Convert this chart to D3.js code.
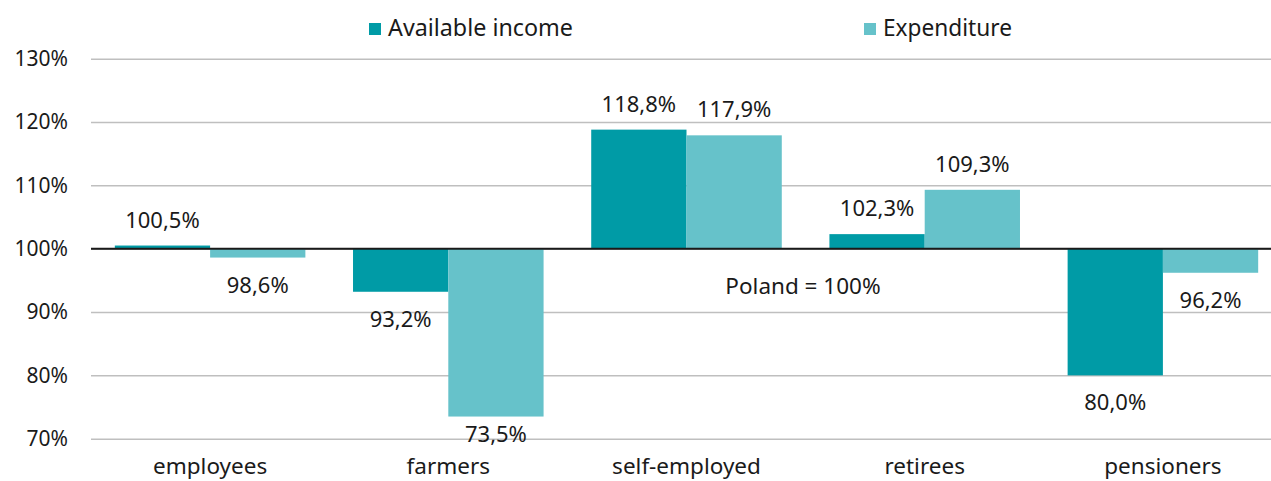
<!DOCTYPE html>
<html>
<head>
<meta charset="utf-8">
<script src="https://cdn.jsdelivr.net/npm/d3@7"></script>
<style>
  html, body { margin: 0; padding: 0; background: #fff; }
  svg { display: block; }
  svg text { font-family: "Noto Sans", "Open Sans", sans-serif; }
</style>
</head>
<body>
<svg id="chart" width="1271" height="481"></svg>
<script>
// Household income and spending per person by socio-economic group (Poland = 100%)
const categories = ["employees", "farmers", "self-employed", "retirees", "pensioners"];
const seriesNames = ["Available income", "Expenditure"];
const availableIncome = [100.5, 93.2, 118.8, 102.3, 80.0];
const expenditure = [98.6, 73.5, 117.9, 109.3, 96.2];
const yTicks = [70, 80, 90, 100, 110, 120, 130];
const baseline = 100;
const baselineNote = "Poland = 100%";

const colors = ["#009ba6", "#66c2ca"];
const fmt = v => v.toFixed(1).replace(".", ",") + "%";
const fontFamily = '"Noto Sans", "Open Sans", sans-serif';
const labelSize = 22;

const svg = d3.select("#chart");
const plot = { left: 91, right: 1282, top: 58.7, bottom: 438.7 };

const x = d3.scaleBand()
  .domain(categories)
  .range([plot.left, plot.right])
  .paddingInner(0.2)
  .paddingOuter(0.1);

const xSeries = d3.scaleBand()
  .domain(seriesNames)
  .range([0, x.bandwidth()])
  .padding(0);

const y = d3.scaleLinear()
  .domain([70, 130])
  .range([plot.bottom, plot.top]);

// horizontal gridlines with tick labels
const yAxis = d3.axisLeft(y)
  .tickValues(yTicks)
  .tickSize(-(plot.right - plot.left))
  .tickPadding(23)
  .tickFormat(d => d + "%");

const gy = svg.append("g")
  .attr("transform", `translate(${plot.left},0)`)
  .call(yAxis)
  .attr("font-family", fontFamily);
gy.select(".domain").remove();
gy.selectAll(".tick line").attr("stroke", "#bfbfbf").attr("stroke-width", 1.5);
gy.selectAll(".tick text")
  .attr("fill", "#1a1a1a")
  .attr("font-size", 21);

const rows = categories.map((c, i) => ({
  category: c,
  values: [
    { name: seriesNames[0], value: availableIncome[i] },
    { name: seriesNames[1], value: expenditure[i] }
  ]
}));

const groups = svg.append("g").selectAll("g")
  .data(rows)
  .join("g")
  .attr("transform", d => `translate(${x(d.category)},0)`);

groups.selectAll("rect")
  .data(d => d.values)
  .join("rect")
  .attr("x", d => xSeries(d.name))
  .attr("width", xSeries.bandwidth())
  .attr("y", d => y(Math.max(d.value, baseline)))
  .attr("height", d => Math.abs(y(d.value) - y(baseline)))
  .attr("fill", (d, i) => colors[i]);

// value labels sit beyond the bar end, kept inside the plot area
groups.selectAll("text.value")
  .data(d => d.values)
  .join("text")
  .attr("class", "value")
  .attr("x", d => xSeries(d.name) + xSeries.bandwidth() / 2)
  .attr("y", d => d.value >= baseline
    ? y(d.value) - 18
    : Math.min(y(d.value) + 35, plot.bottom + 3))
  .attr("text-anchor", "middle")
  .attr("font-size", labelSize)
  .attr("fill", "#1a1a1a")
  .text(d => fmt(d.value));

// reference line at 100%
svg.append("line")
  .attr("x1", plot.left)
  .attr("x2", plot.right)
  .attr("y1", y(baseline))
  .attr("y2", y(baseline))
  .attr("stroke", "#1a1a1a")
  .attr("stroke-width", 2);

svg.append("text")
  .attr("x", 803)
  .attr("y", y(baseline) + 45)
  .attr("text-anchor", "middle")
  .attr("font-size", 22.5)
  .attr("fill", "#1a1a1a")
  .text(baselineNote);

// category labels
const xAxis = d3.axisBottom(x).tickSize(0).tickPadding(0);
const gx = svg.append("g")
  .attr("transform", `translate(0,${plot.bottom})`)
  .call(xAxis)
  .attr("font-family", fontFamily);
gx.select(".domain").remove();
gx.selectAll(".tick text")
  .attr("dy", null)
  .attr("y", 35)
  .attr("font-size", 22.5)
  .attr("fill", "#1a1a1a");

// legend
const legendItems = [
  { name: seriesNames[0], sx: 369, tx: 388, width: 185 },
  { name: seriesNames[1], sx: 864, tx: 883, width: 129 }
];
const legend = svg.append("g");
legend.selectAll("rect")
  .data(legendItems)
  .join("rect")
  .attr("x", d => d.sx)
  .attr("y", 23)
  .attr("width", 12)
  .attr("height", 12)
  .attr("fill", (d, i) => colors[i]);
legend.selectAll("text")
  .data(legendItems)
  .join("text")
  .attr("x", d => d.tx)
  .attr("y", 36)
  .attr("font-size", 23)
  .attr("fill", "#1a1a1a")
  .attr("textLength", d => d.width)
  .attr("lengthAdjust", "spacingAndGlyphs")
  .text(d => d.name);
</script>
</body>
</html>
